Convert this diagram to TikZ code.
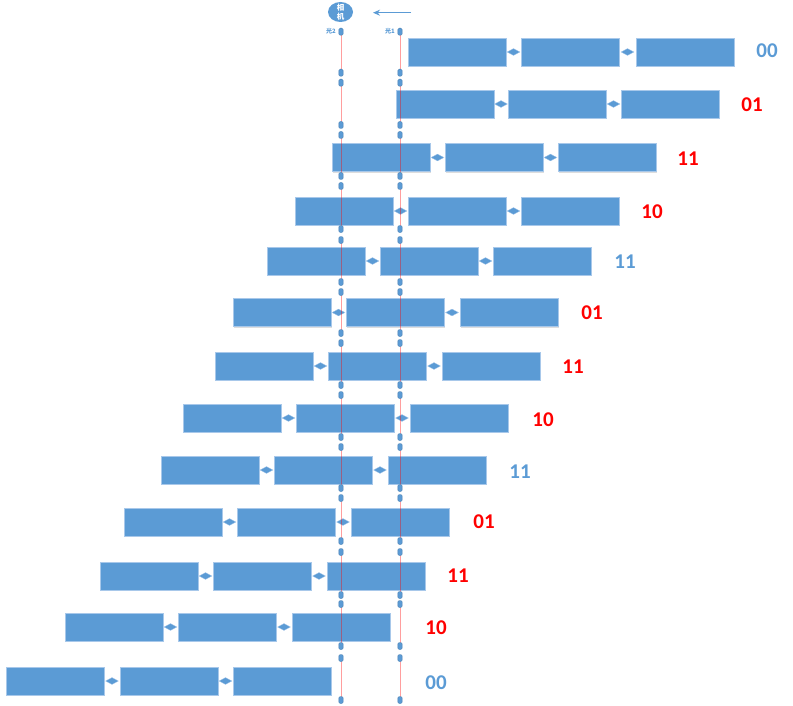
\documentclass[tikz,border=0pt]{standalone}
\usepackage{fontspec}
\setmainfont{Carlito}
\newfontfamily\cjk{Noto Sans CJK SC}
\usetikzlibrary{shapes.geometric,arrows.meta,shadows}
\definecolor{bfill}{HTML}{5B9BD5}
\definecolor{bedge}{HTML}{A8C8EA}
\definecolor{lblue}{HTML}{5B9BD5}
\definecolor{lred}{HTML}{FF0000}
\definecolor{mkedge}{HTML}{4A7FB0}
\begin{document}
\begin{tikzpicture}[x=1pt,y=-1pt,
  box/.style={rectangle, fill=bfill, draw=bedge, line width=0.8pt, minimum width=98pt, minimum height=28pt, inner sep=0pt,
    drop shadow={shadow xshift=0.6pt, shadow yshift=-1.2pt, opacity=0.22, fill=black!60}},
  dmd/.style={diamond, aspect=1.9, fill=bfill, draw=bedge, line width=0.3pt, minimum width=13pt, minimum height=7pt, inner sep=0pt},
  lab/.style={font=\bfseries\fontsize{21}{24}\selectfont, inner sep=0pt},
  vline/.style={draw=red, opacity=0.38, line width=0.75pt},
  mk/.style={rectangle, rounded corners=1.2pt, fill=bfill, draw=mkedge, line width=0.4pt, minimum width=4.2pt, minimum height=7pt, inner sep=0pt},
  smalltxt/.style={font=\cjk\bfseries\fontsize{6}{7}\selectfont, text=lblue, inner sep=0pt}
]
\useasboundingbox (0,0) rectangle (793,706);

% camera
\node[ellipse, fill=bfill, minimum width=25pt, minimum height=20pt, inner sep=0pt] (cam) at (340.5,12) {};
\node[font=\cjk\bfseries\fontsize{7.5}{9}\selectfont, text=white, align=center, inner sep=0pt] (camtxt) at (cam.center) {相\\机};
\coordinate (ast) at (411,12.7);
\coordinate (aen) at (373,12.7);
\draw[draw=lblue, line width=1pt, -{Stealth[length=7pt,width=6pt]}] (ast) -- (aen);

% rows of boxes
\foreach \r/\xa/\xb/\xc/\cy/\lab/\col/\lx/\ly in {
  1/408/521/636/52/00/lblue/767/51,
  2/396/508/621/104/01/lred/752/104.5,
  3/332/445/558/157.5/11/lred/688/158.5,
  4/295/408/521/211/10/lred/652/211.5,
  5/267/380/493/261/11/lblue/625/262,
  6/233/346/460/312.5/01/lred/592/313,
  7/215/328/442/366/11/lred/573/367,
  8/183/296/410/418/10/lred/543/420,
  9/161/274/388/470/11/lblue/520/471.5,
  10/124/237/351/522/01/lred/484/522,
  11/100/213/327/576/11/lred/458/576,
  12/65/178/292/627/10/lred/436/628,
  13/6/120/233/681/00/lblue/436/683}{
  \node[box] (b\r-1) at (\xa+49,\cy) {};
  \node[box] (b\r-2) at (\xb+49,\cy) {};
  \node[box] (b\r-3) at (\xc+49,\cy) {};
  \path (b\r-1.east) -- (b\r-2.west) node[midway, dmd] (d\r-1) {};
  \path (b\r-2.east) -- (b\r-3.west) node[midway, dmd] (d\r-2) {};
  \node[lab, text=\col] (l\r) at (\lx,\ly) {\lab};
}

% vertical light paths with handles
\foreach \y [count=\k] in {31.7,72.7,82.7,125,135,176,186,229,240,282,292,333,343,385,395,437,447,488,498,541,552,595,604,646,658,700}{
  \coordinate (p\k) at (341,\y);
  \coordinate (q\k) at (400,\y);
}
\foreach \a/\b in {1/2,3/4,5/6,7/8,9/10,11/12,13/14,15/16,17/18,19/20,21/22,23/24,25/26}{
  \draw[vline] (p\a) -- (p\b);
  \draw[vline] (q\a) -- (q\b);
}
\foreach \k in {1,...,26}{
  \node[mk] (mp\k) at (p\k) {};
  \node[mk] (mq\k) at (q\k) {};
}
\node[smalltxt, anchor=east] (g2) at (336,31.5) {光2};
\node[smalltxt, anchor=east] (g1) at (395,31.5) {光1};
\end{tikzpicture}
\end{document}
